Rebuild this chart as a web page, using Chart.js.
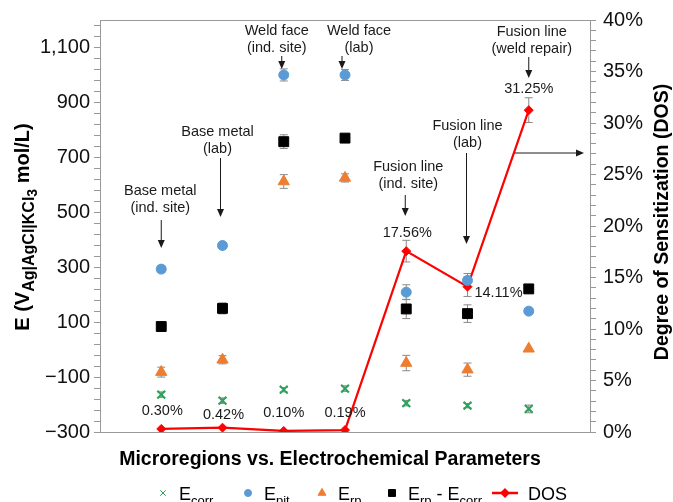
<!DOCTYPE html>
<html>
<head>
<meta charset="utf-8">
<script src="https://cdn.jsdelivr.net/npm/chart.js@4.4.1/dist/chart.umd.min.js"></script>
<style>
  html, body { margin: 0; padding: 0; background: #fff; }
  #wrap { width: 673px; height: 502px; }
</style>
</head>
<body>
<div id="wrap"><canvas id="chart" width="673" height="502"></canvas></div>
<script>
// microregions, in the order they sit on the x axis
const categories = ['Base metal (ind. site)', 'Base metal (lab)', 'Weld face (ind. site)', 'Weld face (lab)',
                    'Fusion line (ind. site)', 'Fusion line (lab)', 'Fusion line (weld repair)'];
const xPos = [1, 2, 3, 4, 5, 6, 7];

// potentials (mV) and their error half widths
const eCorr = [-164, -186, -146, -142, -195, -204, -216];
const eCorrErr = [10, 10, 8, 10, 10, 8, 14];
const ePit = [293, 379, 1000, 1000, 209, 252, 140];
const ePitErr = [12, 10, 22, 20, 27, 25, 0];
const eRp = [-82, -37, 612, 625, -49, -73, 3];
const eRpErr = [18, 15, 25, 15, 28, 24, 0];
const eDiff = [84, 150, 757, 770, 148, 131, 221];
const eDiffErr = [15, 20, 25, 5, 35, 32, 0];

// degree of sensitization (%)
const dos = [0.30, 0.42, 0.10, 0.19, 17.56, 14.11, 31.25];
const dosErr = [0, 0, 0, 0, 1.05, 0.95, 1.2];

// tick labels
const leftTicks = [-300, -100, 100, 300, 500, 700, 900, 1100];
const rightTicks = [0, 5, 10, 15, 20, 25, 30, 35, 40];

const FONT = "'Liberation Sans', Arial, Helvetica, sans-serif";
const GREY = '#999';

function pts(values) {
    return values.map((v, i) => ({ x: xPos[i], y: v }));
}

function fmtLeft(v) {
    const s = Math.abs(v).toLocaleString('en-US');
    return v < 0 ? '\u2212' + s : s;
}

// draw text made of normal + subscript pieces (p.sub = size of the subscript, p.dy = drop)
function richText(ctx, parts, x, y, size, bold, align) {
    const font = p => (bold ? 'bold ' : '') + (p.sub || size) + 'px ' + FONT;
    const w = parts.map(p => {
        ctx.font = font(p);
        return ctx.measureText(p.t).width;
    });
    const total = w.reduce((a, b) => a + b, 0);
    let cx = align === 'center' ? x - total / 2 : x;
    ctx.textAlign = 'left';
    ctx.textBaseline = 'alphabetic';
    parts.forEach((p, i) => {
        ctx.font = font(p);
        ctx.fillText(p.t, cx, y + (p.dy || 0));
        cx += w[i];
    });
    return total;
}

function arrow(ctx, x1, y1, x2, y2) {
    const a = Math.atan2(y2 - y1, x2 - x1);
    ctx.beginPath();
    ctx.moveTo(x1, y1);
    ctx.lineTo(x2 - 6 * Math.cos(a), y2 - 6 * Math.sin(a));
    ctx.stroke();
    ctx.beginPath();
    ctx.moveTo(x2, y2);
    ctx.lineTo(x2 - 8 * Math.cos(a) + 3.5 * Math.sin(a), y2 - 8 * Math.sin(a) - 3.5 * Math.cos(a));
    ctx.lineTo(x2 - 8 * Math.cos(a) - 3.5 * Math.sin(a), y2 - 8 * Math.sin(a) + 3.5 * Math.cos(a));
    ctx.closePath();
    ctx.fill();
}

const errorBars = {
    id: 'errorBars',
    beforeDatasetsDraw(chart) {
        const ctx = chart.ctx;
        ctx.save();
        ctx.strokeStyle = '#8a8a8a';
        ctx.lineWidth = 1;
        chart.data.datasets.forEach((ds, i) => {
            if (!ds.errors) return;
            const meta = chart.getDatasetMeta(i);
            const scale = chart.scales[meta.yAxisID];
            meta.data.forEach((el, j) => {
                const e = ds.errors[j];
                if (!e) return;
                const v = ds.data[j].y;
                const top = scale.getPixelForValue(v + e);
                const bot = scale.getPixelForValue(v - e);
                ctx.beginPath();
                ctx.moveTo(el.x, top); ctx.lineTo(el.x, bot);
                ctx.moveTo(el.x - 4, top); ctx.lineTo(el.x + 4, top);
                ctx.moveTo(el.x - 4, bot); ctx.lineTo(el.x + 4, bot);
                ctx.stroke();
            });
        });
        ctx.restore();
    }
};

const decorations = {
    id: 'decorations',
    afterDraw(chart) {
        const ctx = chart.ctx;
        const area = chart.chartArea;
        const xs = chart.scales.x;
        const px = i => xs.getPixelForValue(xPos[i]);
        ctx.save();

        // top frame line
        ctx.strokeStyle = GREY;
        ctx.lineWidth = 1;
        ctx.beginPath();
        ctx.moveTo(area.left, area.top + 0.5);
        ctx.lineTo(area.right, area.top + 0.5);
        ctx.stroke();

        // region notes and arrows
        ctx.fillStyle = '#1a1a1a';
        ctx.strokeStyle = '#1a1a1a';
        ctx.font = '14.5px ' + FONT;
        ctx.textAlign = 'center';
        ctx.textBaseline = 'middle';
        const notes = [
            { i: 0, dx: -1, l1: 'Base metal', l2: '(ind. site)', y: 191, a: [0, 220, 248] },
            { i: 1, dx: -5, l1: 'Base metal', l2: '(lab)', y: 132, a: [-2, 158, 217] },
            { i: 2, dx: -7, l1: 'Weld face', l2: '(ind. site)', y: 31, a: [-2, 56, 69] },
            { i: 3, dx: 14, l1: 'Weld face', l2: '(lab)', y: 31, a: [-3, 56, 69] },
            { i: 4, dx: 2, l1: 'Fusion line', l2: '(ind. site)', y: 167, a: [-1, 195, 216] },
            { i: 5, dx: 0, l1: 'Fusion line', l2: '(lab)', y: 126, a: [-1, 153, 244] },
            { i: 6, dx: 3, l1: 'Fusion line', l2: '(weld repair)', y: 32, a: [0, 57, 78] }
        ];
        notes.forEach(n => {
            const x = px(n.i);
            ctx.fillText(n.l1, x + n.dx, n.y);
            ctx.fillText(n.l2, x + n.dx, n.y + 17);
            arrow(ctx, x + n.a[0], n.a[1], x + n.a[0], n.a[2]);
        });
        // arrow pointing to the DOS axis
        arrow(ctx, px(6) - 14, 153, area.right - 6, 153);

        // DOS value labels
        const meta = chart.getDatasetMeta(4);
        const offs = [[1, -18], [1, -13], [0, -18], [0, -17], [1, -18], [31, 6], [0, -21]];
        meta.data.forEach((el, j) => {
            ctx.fillText(dos[j].toFixed(2) + '%', el.x + offs[j][0], el.y + offs[j][1]);
        });

        // axis titles
        ctx.fillStyle = '#000';
        ctx.font = 'bold 19.5px ' + FONT;
        ctx.textAlign = 'center';
        ctx.textBaseline = 'middle';
        ctx.fillText('Microregions vs. Electrochemical Parameters', 330, 460);

        ctx.save();
        ctx.translate(663, 222);
        ctx.rotate(-Math.PI / 2);
        ctx.fillText('Degree of Sensitization (DOS)', 0, 0);
        ctx.restore();

        ctx.save();
        ctx.translate(29, 227);
        ctx.rotate(-Math.PI / 2);
        richText(ctx, [{ t: 'E (V' }, { t: 'Ag|AgCl|KCl', sub: 16, dy: 5 }, { t: '3', sub: 14, dy: 8 },
                       { t: ' mol/L)' }], 0, 0, 20, true, 'center');
        ctx.restore();

        // legend
        const ly = 493;
        const items = [
            { ds: 0, mx: 163, parts: [{ t: 'E' }, { t: 'corr', sub: 13, dy: 5 }] },
            { ds: 1, mx: 248, parts: [{ t: 'E' }, { t: 'pit', sub: 13, dy: 5 }] },
            { ds: 2, mx: 322, parts: [{ t: 'E' }, { t: 'rp', sub: 13, dy: 5 }] },
            { ds: 3, mx: 392, parts: [{ t: 'E' }, { t: 'rp', sub: 13, dy: 5 }, { t: ' - E' }, { t: 'corr', sub: 13, dy: 5 }] },
            { ds: 4, mx: 505, parts: [{ t: 'DOS' }] }
        ];
        items.forEach(it => {
            const ds = chart.data.datasets[it.ds];
            if (it.ds === 4) {
                ctx.strokeStyle = ds.borderColor;
                ctx.lineWidth = 2.5;
                ctx.beginPath();
                ctx.moveTo(it.mx - 13, ly); ctx.lineTo(it.mx + 13, ly);
                ctx.stroke();
            }
            ctx.fillStyle = ds.backgroundColor;
            ctx.strokeStyle = ds.borderColor;
            Chart.helpers.drawPoint(ctx, {
                pointStyle: ds.pointStyle, radius: ds.pointRadius * 0.7,
                borderWidth: ds.pointBorderWidth || 1, rotation: 0
            }, it.mx, ly);
            ctx.fillStyle = '#000';
            richText(ctx, it.parts, it.mx + (it.ds === 4 ? 23 : 16), ly + 7, 18, false, 'left');
        });
        ctx.restore();
    }
};

new Chart(document.getElementById('chart'), {
    type: 'scatter',
    data: {
        datasets: [
            { label: 'Ecorr', data: pts(eCorr), errors: eCorrErr, pointStyle: 'crossRot',
              pointRadius: 5.5, pointBorderWidth: 2, borderColor: '#2aa35b', backgroundColor: '#2aa35b' },
            { label: 'Epit', data: pts(ePit), errors: ePitErr, pointStyle: 'circle',
              pointRadius: 5, pointBorderWidth: 1, borderColor: '#5b9bd5', backgroundColor: '#5b9bd5' },
            { label: 'Erp', data: pts(eRp), errors: eRpErr, pointStyle: 'triangle',
              pointRadius: 6.5, pointBorderWidth: 1, borderColor: '#ed7d31', backgroundColor: '#ed7d31' },
            { label: 'Erp - Ecorr', data: pts(eDiff), errors: eDiffErr, pointStyle: 'rect',
              pointRadius: 7, pointBorderWidth: 1, borderColor: '#000', backgroundColor: '#000' },
            { label: 'DOS', data: pts(dos), errors: dosErr, yAxisID: 'y1', showLine: true,
              pointStyle: 'rectRot', pointRadius: 4.5, pointBorderWidth: 1, borderWidth: 2.2,
              borderColor: '#ff0000', backgroundColor: '#ff0000' }
        ]
    },
    options: {
        responsive: false,
        animation: false,
        layout: { padding: { top: 20, left: 0, right: 0, bottom: 0 } },
        plugins: { legend: { display: false }, tooltip: { enabled: false } },
        scales: {
            x: {
                type: 'linear', min: 0, max: 8,
                ticks: { display: false },
                grid: { display: false },
                border: { color: GREY },
                afterFit(s) { s.height = 70; }
            },
            y: {
                position: 'left', min: -300, max: 1200,
                afterBuildTicks(s) {
                    const t = [];
                    for (let v = leftTicks[0]; v <= 1180; v += 40) t.push({ value: v });
                    s.ticks = t;
                },
                ticks: {
                    autoSkip: false, padding: 4, color: '#111',
                    font: { family: FONT, size: 20 },
                    callback: v => leftTicks.includes(v) ? fmtLeft(v) : ''
                },
                grid: { drawOnChartArea: false, tickLength: 6, color: GREY },
                border: { color: GREY },
                afterFit(s) { s.width = 100; }
            },
            y1: {
                position: 'right', min: 0, max: 40,
                afterBuildTicks(s) {
                    const t = [];
                    for (let v = 0; v <= 40; v++) t.push({ value: v });
                    s.ticks = t;
                },
                ticks: {
                    autoSkip: false, padding: 7, color: '#111',
                    font: { family: FONT, size: 20 },
                    callback: v => rightTicks.includes(v) ? v + '%' : ''
                },
                grid: { drawOnChartArea: false, tickLength: 6, color: GREY },
                border: { color: GREY },
                afterFit(s) { s.width = 83; }
            }
        }
    },
    plugins: [errorBars, decorations]
});
</script>
</body>
</html>
